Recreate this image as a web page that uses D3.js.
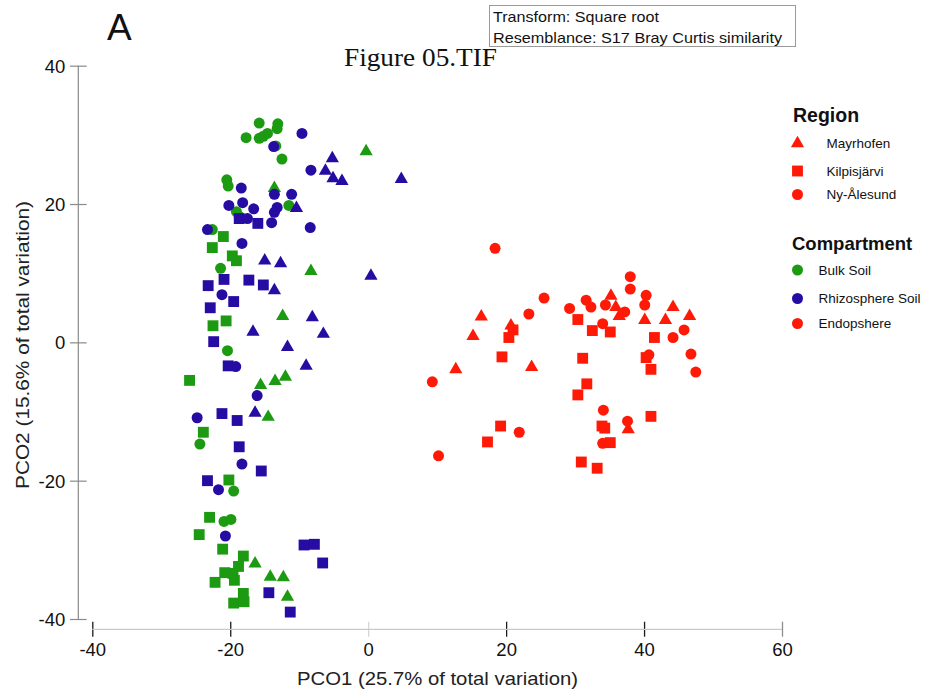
<!DOCTYPE html>
<html>
<head>
<meta charset="utf-8">
<script src="https://cdn.jsdelivr.net/npm/d3@7"></script>
<style>
  html, body { margin: 0; padding: 0; background: #fff; }
  svg { display: block; font-family: "Liberation Sans", Arial, sans-serif; }
</style>
</head>
<body>
<svg id="chart" width="928" height="691"></svg>
<script>
// ---------- data (PCO1, PCO2) ----------
const regions = ["Mayrhofen", "Kilpisjärvi", "Ny-Ålesund"];
const compartments = ["Bulk Soil", "Rhizosphere Soil", "Endopshere"];
const compartmentColors = ["#1c9a12", "#260ca3", "#fe1a07"];
const xTicks = [-40, -20, 0, 20, 40, 60];
const yTicks = [-40, -20, 0, 20, 40];

// Bulk Soil
const bulkMayrhofen = [[-0.3,27.6],[-13.6,22.3],[-8.3,10.3],[-12.4,3.8],[-15.6,-6.2],[-13.5,-5.6],[-12.0,-5.0],[-14.5,-10.8],[-16.4,-32.0],[-14.2,-33.9],[-12.3,-34.0],[-11.7,-36.8]];
const bulkKilpisjarvi = [[-21.0,15.3],[-22.6,13.7],[-19.7,12.5],[-19.1,11.8],[-20.6,3.1],[-22.5,2.4],[-25.9,-5.5],[-23.9,-13.0],[-20.2,-19.9],[-23.0,-25.3],[-24.5,-27.8],[-21.1,-29.9],[-18.1,-30.9],[-18.8,-32.4],[-20.8,-33.3],[-19.6,-33.4],[-19.4,-34.4],[-22.2,-34.7],[-18.1,-36.3],[-19.5,-37.7],[-18.0,-37.5]];
const bulkNyAlesund = [[-15.8,31.7],[-13.1,31.6],[-13.2,30.9],[-17.7,29.6],[-15.8,29.5],[-15.2,29.8],[-14.6,30.2],[-13.4,28.4],[-12.5,26.5],[-20.5,23.5],[-20.3,22.6],[-11.5,19.8],[-19.1,18.9],[-18.7,18.2],[-22.6,16.3],[-21.4,10.7],[-20.4,-1.2],[-24.4,-14.7],[-19.5,-21.5],[-20.9,-25.9],[-19.9,-25.6]];

// Rhizosphere Soil
const rhizoMayrhofen = [[-5.2,26.6],[-6.2,24.8],[-5.1,23.7],[-3.8,23.3],[4.8,23.6],[-10.4,19.4],[-15.0,11.8],[-12.7,11.4],[0.4,9.6],[-13.6,7.5],[-8.1,3.6],[-16.7,1.5],[-6.5,1.2],[-11.7,-0.7],[-9.0,-3.4],[-16.4,-10.2]];
const rhizoKilpisjarvi = [[-16.0,17.2],[-18.7,17.9],[-23.2,8.2],[-20.9,9.1],[-17.3,9.0],[-15.2,8.3],[-19.5,5.9],[-22.9,5.0],[-22.4,0.1],[-20.3,-3.4],[-21.2,-10.3],[-19.0,-11.3],[-18.7,-15.1],[-15.5,-18.6],[-23.3,-20.0],[-9.3,-29.3],[-7.8,-29.2],[-6.6,-31.9],[-14.4,-36.2],[-11.3,-39.0]];
const rhizoNyAlesund = [[-9.6,30.2],[-13.7,28.3],[-8.3,24.9],[-18.4,22.3],[-18.2,20.2],[-20.2,19.8],[-16.6,19.3],[-13.6,21.4],[-11.1,21.4],[-13.2,19.5],[-13.6,18.8],[-14.0,17.3],[-8.4,16.6],[-23.3,16.3],[-18.3,14.3],[-17.5,17.9],[-21.2,6.9],[-19.2,-3.5],[-16.1,-7.7],[-24.8,-10.9],[-18.3,-17.6],[-21.7,-21.3],[-20.7,-28.0]];

// Endopshere
const endoMayrhofen = [[35.2,6.7],[35.9,5.1],[36.4,3.8],[16.4,3.7],[15.2,0.9],[20.7,2.4],[40.1,3.2],[44.2,5.1],[43.1,3.2],[46.6,3.8],[12.7,-3.9],[23.7,-3.6],[37.7,-12.6]];
const endoKilpisjarvi = [[30.4,3.3],[21.0,1.8],[20.4,0.7],[32.5,1.7],[35.1,1.5],[41.5,0.7],[19.4,-2.1],[31.1,-2.3],[40.3,-2.2],[41.0,-3.9],[31.7,-6.0],[30.4,-7.6],[33.9,-12.1],[34.3,-12.4],[41.0,-10.7],[19.2,-12.1],[17.3,-14.4],[35.1,-14.5],[30.9,-17.3],[33.2,-18.2]];
const endoNyAlesund = [[18.4,13.6],[38.0,9.5],[38.0,7.7],[25.5,6.4],[31.6,6.1],[32.3,5.1],[29.2,4.9],[34.4,5.4],[40.3,6.8],[40.1,5.4],[37.2,4.4],[23.3,4.1],[34.0,2.7],[44.2,0.7],[45.8,1.8],[40.7,-1.8],[46.8,-1.7],[47.5,-4.3],[9.3,-5.7],[34.1,-9.8],[37.6,-11.4],[21.9,-13.0],[34.0,-14.6],[10.2,-16.4]];

// ---------- build groups ----------
const groups = [
  {comp: 0, region: 0, pts: bulkMayrhofen},
  {comp: 0, region: 1, pts: bulkKilpisjarvi},
  {comp: 0, region: 2, pts: bulkNyAlesund},
  {comp: 1, region: 0, pts: rhizoMayrhofen},
  {comp: 1, region: 1, pts: rhizoKilpisjarvi},
  {comp: 1, region: 2, pts: rhizoNyAlesund},
  {comp: 2, region: 0, pts: endoMayrhofen},
  {comp: 2, region: 1, pts: endoKilpisjarvi},
  {comp: 2, region: 2, pts: endoNyAlesund}
];

const svg = d3.select("#chart");
const x = d3.scaleLinear().domain([-40, 60]).range([92.3, 782]);
const y = d3.scaleLinear().domain([-40, 40]).range([619, 65.7]);

const symbolTypes = [d3.symbolTriangle, d3.symbolSquare, d3.symbolCircle];
const symbolSizes = [76, 118, 95];
const symGen = i => d3.symbol().type(symbolTypes[i]).size(symbolSizes[i])();
const fmt = d => d3.format("d")(d).replace("−", "-");

// ---------- axes ----------
const yAxisX = 78.3;
const yAxis = d3.axisLeft(y).tickValues(yTicks).tickSize(0).tickPadding(0);
const gy = svg.append("g").attr("transform", `translate(${yAxisX},0)`).call(yAxis);
gy.select(".domain").remove();
gy.selectAll(".tick text").remove();
gy.append("line").attr("x1", 0).attr("x2", 0).attr("y1", y(40)).attr("y2", y(-40))
  .attr("stroke", "#8a8a8a").attr("stroke-width", 1.2);
gy.selectAll(".tick").append("line").attr("x1", -8.3).attr("x2", 8.4)
  .attr("stroke", "#8a8a8a").attr("stroke-width", 1.2);
gy.selectAll(".tick").append("text")
  .attr("x", -13).attr("dy", "0.35em").attr("text-anchor", "end")
  .attr("fill", "#111").style("font-size", "18.5px")
  .text(fmt);

const xAxisY = 629.3;
const xAxis = d3.axisBottom(x).tickValues(xTicks).tickSize(0);
const gx = svg.append("g").attr("transform", `translate(0,${xAxisY})`).call(xAxis);
gx.select(".domain").remove();
gx.selectAll(".tick text").remove();
gx.append("line").attr("x1", x(-40)).attr("x2", x(60)).attr("y1", 0).attr("y2", 0)
  .attr("stroke", "#c9c9c9").attr("stroke-width", 1.2);
gx.selectAll(".tick").append("line").attr("y1", -7.6).attr("y2", 7.4)
  .attr("stroke", d => d === 0 ? "#d6d6d6" : (d === 60 ? "#8c8c8c" : "#1a1a1a"))
  .attr("stroke-width", 1.3);
gx.selectAll(".tick").append("text")
  .attr("y", 27).attr("text-anchor", "middle")
  .attr("fill", "#111").style("font-size", "18.5px")
  .text(fmt);

// axis titles
svg.append("text").attr("x", 437.5).attr("y", 685).attr("text-anchor", "middle")
  .style("font-size", "19px").attr("fill", "#222")
  .attr("textLength", 281).attr("lengthAdjust", "spacingAndGlyphs")
  .text("PCO1 (25.7% of total variation)");
svg.append("text").attr("transform", "translate(29,345) rotate(-90)").attr("text-anchor", "middle")
  .style("font-size", "19px").attr("fill", "#222")
  .attr("textLength", 288).attr("lengthAdjust", "spacingAndGlyphs")
  .text("PCO2 (15.6% of total variation)");

// ---------- points ----------
const pts = svg.append("g");
groups.forEach(g => {
  pts.selectAll(null).data(g.pts).enter().append("path")
    .attr("d", symGen(g.region))
    .attr("transform", d => `translate(${x(d[0])},${y(d[1])})`)
    .attr("fill", compartmentColors[g.comp]);
});

// ---------- annotations ----------
svg.append("text").attr("x", 107).attr("y", 40).style("font-size", "37px").attr("fill", "#111").text("A");
svg.append("text").attr("x", 344).attr("y", 66)
  .style("font-family", "'Liberation Serif', 'Times New Roman', serif").style("font-size", "25px")
  .attr("fill", "#111").attr("textLength", 153).attr("lengthAdjust", "spacingAndGlyphs")
  .text("Figure 05.TIF");
svg.append("rect").attr("x", 489.5).attr("y", 5.5).attr("width", 306).attr("height", 41)
  .attr("fill", "#fff").attr("stroke", "#9a9a9a").attr("stroke-width", 1);
svg.append("text").attr("x", 493).attr("y", 22).style("font-size", "15px").attr("fill", "#111")
  .attr("textLength", 166).attr("lengthAdjust", "spacingAndGlyphs")
  .text("Transform: Square root");
svg.append("text").attr("x", 493).attr("y", 43).style("font-size", "15px").attr("fill", "#111")
  .attr("textLength", 289).attr("lengthAdjust", "spacingAndGlyphs")
  .text("Resemblance: S17 Bray Curtis similarity");

// ---------- legend ----------
const leg = svg.append("g");
leg.append("text").attr("x", 793).attr("y", 122).style("font-size", "19.5px").style("font-weight", "bold")
  .attr("fill", "#111").text("Region");
const regionY = [143.5, 171, 194.5];
regions.forEach((r, i) => {
  leg.append("path").attr("d", symGen(i)).attr("transform", `translate(797.5,${regionY[i]})`)
    .attr("fill", compartmentColors[2]);
  leg.append("text").attr("x", 826.5).attr("y", regionY[i] + 4.8).style("font-size", "13.5px")
    .attr("fill", "#111").text(r);
});
leg.append("text").attr("x", 792).attr("y", 249.5).style("font-size", "18.5px").style("font-weight", "bold")
  .attr("fill", "#111").text("Compartment");
const compY = [270, 298.5, 323.5];
compartments.forEach((c, i) => {
  leg.append("path").attr("d", symGen(2)).attr("transform", `translate(797.5,${compY[i]})`)
    .attr("fill", compartmentColors[i]);
  leg.append("text").attr("x", 818.5).attr("y", compY[i] + 4.8).style("font-size", "13.5px")
    .attr("fill", "#111").text(c);
});
</script>
</body>
</html>
